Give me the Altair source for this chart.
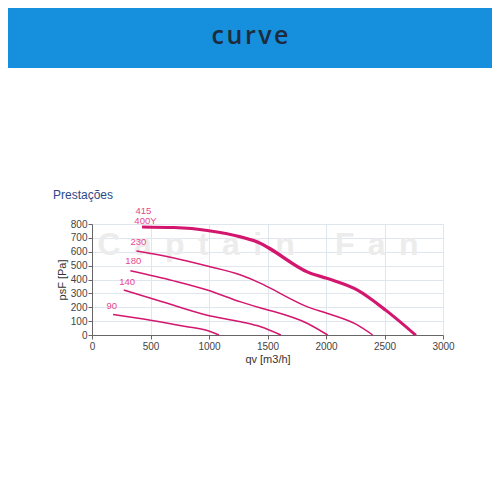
import altair as alt
import pandas as pd

# ---- data ----
x415 = [428, 700, 985, 1271, 1442, 1511, 1842, 2014, 2271, 2513, 2770]
y415 = [782, 777, 757, 711, 664, 632, 458, 410, 326, 181, 0]
x400 = [428, 700, 985, 1271, 1442, 1511, 1842, 2014, 2271, 2513, 2760]
y400 = [776, 771, 750, 703, 655, 622, 450, 403, 319, 173, 0]
x230 = [380, 700, 985, 1271, 1442, 1511, 1842, 2014, 2271, 2399]
y230 = [605, 555, 497, 432, 372, 343, 203, 155, 71, 0]
x180 = [328, 700, 985, 1271, 1442, 1511, 1842, 2014]
y180 = [463, 390, 324, 239, 195, 179, 83, 0]
x140 = [271, 600, 985, 1271, 1442, 1614]
y140 = [324, 240, 143, 95, 59, 0]
x90 = [180, 500, 800, 985, 1085]
y90 = [148, 107, 62, 32, 0]

label_text = ["415", "400Y", "230", "180", "140", "90"]
label_x = [371, 362, 328, 285, 233, 123]
label_y = [891, 822, 667, 533, 381, 208]

x_ticks = [0, 500, 1000, 1500, 2000, 2500, 3000]
y_ticks = [0, 100, 200, 300, 400, 500, 600, 700, 800]

series = [("415", x415, y415, 2.2), ("400", x400, y400, 2.2),
          ("230", x230, y230, 1.5), ("180", x180, y180, 1.5),
          ("140", x140, y140, 1.5), ("90", x90, y90, 1.5)]
rows = []
for name, xs, ys, w in series:
    for i, (a, b) in enumerate(zip(xs, ys)):
        rows.append({"curve": name, "qv": a, "psF": b, "order": i, "w": w})
df = pd.DataFrame(rows)
labels = pd.DataFrame({"t": label_text, "qv": label_x, "psF": label_y})
one = pd.DataFrame({"a": [0]})

LINE = "#d3166e"
FONT = "Liberation Sans"

xscale = alt.Scale(domain=[0, 3000], nice=False)
yscale = alt.Scale(domain=[0, 800], nice=False)
xaxis = alt.Axis(values=x_ticks, format="d", tickSize=4, labelPadding=2,
                 titlePadding=2, labelOverlap=False, labelFlush=False)
yaxis = alt.Axis(values=y_ticks, format="d", tickSize=4, labelPadding=1,
                 titlePadding=3, labelOverlap=False, labelFlush=False)

lines = alt.Chart(df).mark_line(color=LINE, interpolate="monotone").encode(
    x=alt.X("qv:Q", scale=xscale, title="qv [m3/h]", axis=xaxis),
    y=alt.Y("psF:Q", scale=yscale, title="psF [Pa]", axis=yaxis),
    detail="curve:N",
    order="order:Q",
    strokeWidth=alt.StrokeWidth("w:Q", scale=None, legend=None),
)

lab = alt.Chart(labels).mark_text(color="#e8458d", font=FONT, fontSize=9.5,
                                  align="left", baseline="middle").encode(
    x=alt.X("qv:Q", scale=xscale, title="qv [m3/h]", axis=xaxis),
    y=alt.Y("psF:Q", scale=yscale, title="psF [Pa]", axis=yaxis),
    text="t:N")

header = alt.Chart(one).mark_rect(color="#168fdd").encode(
    x=alt.value(-84), x2=alt.value(400), y=alt.value(-216), y2=alt.value(-156))
header_text = alt.Chart(one).mark_text(
    text="c\u200au\u200ar\u200av\u200ae", font="Open Sans", fontWeight=600, fontSize=25,
    color="#1d2b3a", align="center", baseline="middle").encode(
    x=alt.value(158), y=alt.value(-188))
title = alt.Chart(one).mark_text(
    text="Prestações", font=FONT, fontSize=12, color="#2d4888",
    align="left", baseline="middle").encode(x=alt.value(-39), y=alt.value(-29))
sp = "\u2004\u200a"
watermark = alt.Chart(one).mark_text(
    text=sp.join("Captain") + sp * 3 + sp.join("Fan"),
    font=FONT, fontWeight="bold", fontSize=32, color="#ececec",
    align="center", baseline="middle").encode(x=alt.value(166), y=alt.value(21))

chart = alt.layer(header, header_text, title, watermark, lines, lab).properties(
    width=351, height=111,
    autosize=alt.AutoSizeParams(type="none"),
    padding={"left": 84, "top": 216, "right": 49, "bottom": 157},
).configure_view(stroke="#dfe5ee").configure_axis(
    labelFont=FONT, labelFontSize=10, labelColor="#444444",
    titleFont=FONT, titleFontSize=11, titleColor="#333333", titleFontWeight="normal",
    domainColor="#666666", tickColor="#666666", gridColor="#e0e6ee",
)

chart.save("out.html", embed_options={"renderer": "svg", "actions": False})
